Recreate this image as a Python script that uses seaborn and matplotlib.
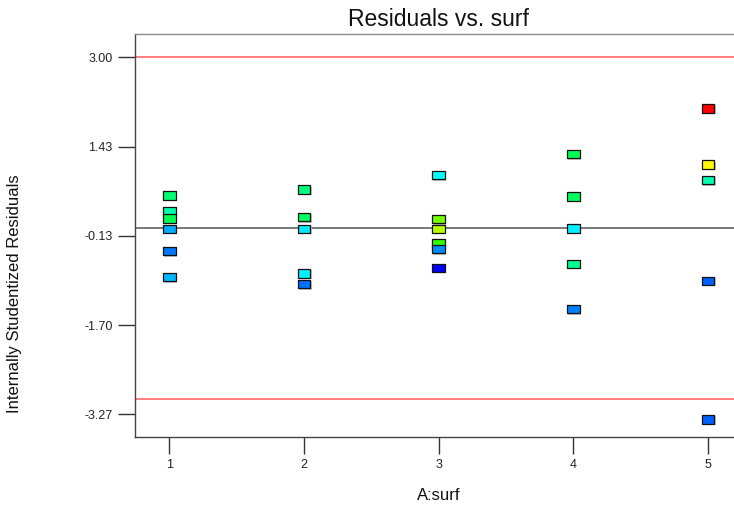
import numpy as np
import pandas as pd
import matplotlib
matplotlib.use("Agg")
import matplotlib.pyplot as plt
import matplotlib.transforms as mtransforms
from matplotlib.path import Path
from matplotlib.colors import LinearSegmentedColormap
import seaborn as sns

# ---- data ----
surf = [1, 1, 1, 1, 1, 1,
        2, 2, 2, 2, 2,
        3, 3, 3, 3, 3, 3,
        4, 4, 4, 4, 4,
        5, 5, 5, 5, 5]
residuals = [0.568, 0.287, 0.171, -0.012, -0.404, -0.861,
             0.673, 0.193, -0.012, -0.796, -0.984,
             0.931, 0.158, -0.012, -0.269, -0.369, -0.698,
             1.301, 0.550, -0.005, -0.627, -1.424,
             2.104, 1.112, 0.844, -0.926, -3.357]
# colour level of each run (response scale, 0 = low/blue, 1 = high/red)
levels = [0.39, 0.335, 0.42, 0.17, 0.12, 0.18,
          0.375, 0.41, 0.23, 0.235, 0.11,
          0.25, 0.61, 0.68, 0.55, 0.14, 0.0,
          0.42, 0.41, 0.235, 0.36, 0.125,
          1.0, 0.75, 0.33, 0.095, 0.095]
x_ticks = [1, 2, 3, 4, 5]
y_ticks = [3.00, 1.4325, -0.135, -1.7025, -3.27]
y_tick_labels = ["3.00", "1.43", "-0.13", "-1.70", "-3.27"]
limit_lines = [3.0, -3.0]
zero_line = 0.0
title = "Residuals vs. surf"
xlabel = "A:surf"
ylabel = "Internally Studentized Residuals"

df = pd.DataFrame({"surf": surf, "resid": residuals, "level": levels})

sns.set_theme(style="white")
plt.rcParams["font.family"] = ["Liberation Sans", "DejaVu Sans"]

fig = plt.figure(figsize=(7.34, 5.29), dpi=100)
ax = fig.add_axes([0.1835, 0.1745, 0.8283, 0.7607])

cmap = LinearSegmentedColormap.from_list(
    "de", ["#0000ff", "#00ffff", "#00ff00", "#ffff00", "#ff0000"])

rect = Path([(-1.5, -1.0), (1.5, -1.0), (1.5, 1.0), (-1.5, 1.0), (-1.5, -1.0)],
            [Path.MOVETO, Path.LINETO, Path.LINETO, Path.LINETO, Path.CLOSEPOLY])

# reference lines
for v in limit_lines:
    ax.axhline(v, color="#ff5a5a", lw=1.1, zorder=1)
ax.axhline(zero_line, color="#555555", lw=1.1, zorder=1)

# light shadow under markers
shadow = ax.transData + mtransforms.ScaledTranslation(1.2 / 100, -1.2 / 100, fig.dpi_scale_trans)
ax.scatter(df["surf"], df["resid"], marker=rect, s=86, color="#c4c4c4",
           edgecolor="none", transform=shadow, zorder=2)

sns.scatterplot(data=df, x="surf", y="resid", hue="level", palette=cmap,
                hue_norm=(0, 1), marker=rect, s=86, edgecolor="#111111",
                linewidth=0.9, legend=False, ax=ax, zorder=3)

ax.set_xlim(0.743, 5.257)
ax.set_ylim(-3.663, 3.404)
ax.set_xticks(x_ticks)
ax.set_xticklabels([str(t) for t in x_ticks])
ax.set_yticks(y_ticks)
ax.set_yticklabels(y_tick_labels)

ax.tick_params(axis="both", which="major", direction="out", length=12.5,
               width=1.0, color="#333333", labelsize=9, labelcolor="#222222",
               pad=3.5, bottom=True, left=True)

for side in ["left", "bottom"]:
    ax.spines[side].set_color("#444444")
    ax.spines[side].set_linewidth(1.0)
ax.spines["top"].set_color("#8a8a8a")
ax.spines["top"].set_linewidth(1.0)
ax.spines["right"].set_color("#444444")

ax.set_title(title, fontsize=16.5, color="#111111", pad=6)
ax.set_xlabel(xlabel, fontsize=12, color="#111111", labelpad=12)
ax.set_ylabel("")
fig.text(15 / 734, 1 - 294 / 529, ylabel, rotation=90, fontsize=12,
         color="#111111", ha="center", va="center")

fig.savefig("out.png", dpi=100)
